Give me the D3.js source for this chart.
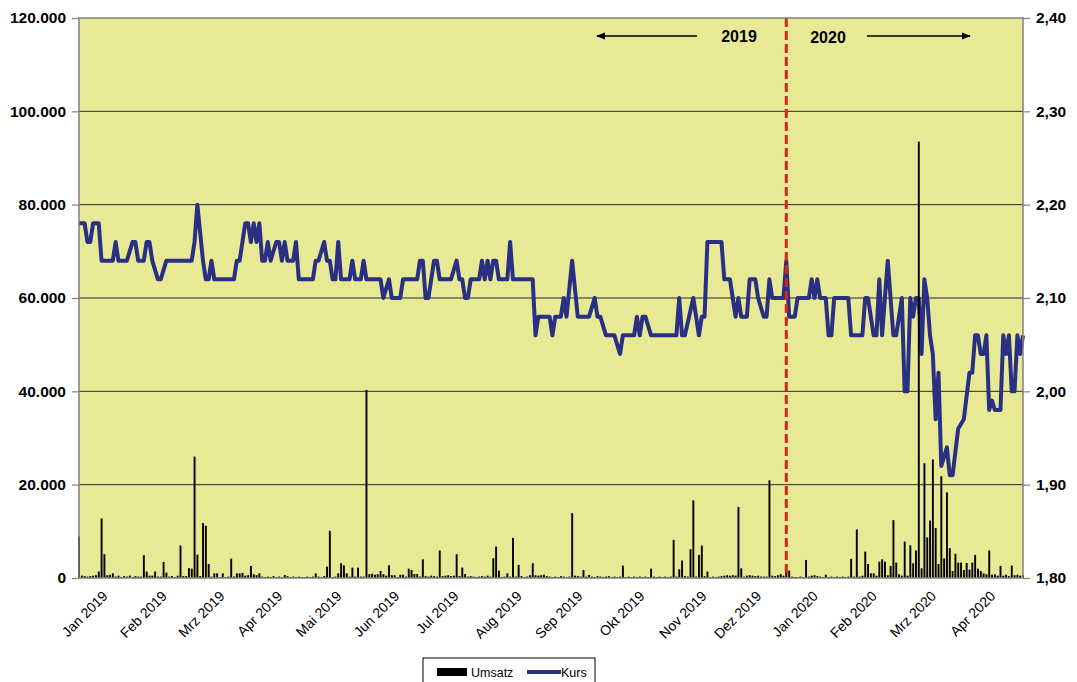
<!DOCTYPE html>
<html>
<head>
<meta charset="utf-8">
<script src="https://cdnjs.cloudflare.com/ajax/libs/d3/7.8.5/d3.min.js"></script>
<style>
    body { margin: 0; background: #fff; }
    text { font-family: Arial, "Liberation Sans", sans-serif; }
</style>
</head>
<body>
<div id="chart"></div>
<script>
// Handelstage: Wochentage ohne Börsenfeiertage
const feiertage = ['2019-01-01', '2019-04-19', '2019-04-22', '2019-05-01', '2019-06-10',
    '2019-12-24', '2019-12-25', '2019-12-26', '2019-12-31', '2020-01-01', '2020-04-10', '2020-04-13'];
const monatsNamen = ['Jan', 'Feb', 'Mrz', 'Apr', 'Mai', 'Jun', 'Jul', 'Aug', 'Sep', 'Okt', 'Nov', 'Dez'];

// Umsatz je Handelstag (Stück)
const umsatz = [
    8900, 500, 400, 300, 400, 500, 600, 1400, 12760, 5100,
    600, 700, 1000, 300, 500, 200, 400, 300, 500, 200,
    400, 300, 300, 4900, 1360, 500, 500, 1360, 300, 300,
    3440, 1150, 300, 400, 200, 500, 6950, 400, 400, 2100,
    2000, 26000, 5000, 400, 11760, 11200, 3000, 300, 1000, 1000,
    200, 1000, 200, 300, 4150, 300, 1000, 1000, 1100, 500,
    600, 2580, 800, 600, 1000, 300, 200, 300, 200, 400,
    200, 300, 200, 650, 400, 200, 300, 200, 300, 200,
    200, 300, 200, 300, 1000, 300, 200, 400, 2440, 10100,
    200, 300, 1000, 3150, 2700, 1000, 300, 2220, 300, 2220,
    300, 300, 40300, 800, 900, 700, 800, 1500, 800, 500,
    2720, 600, 600, 200, 700, 700, 300, 2000, 1720, 850,
    850, 300, 4000, 400, 300, 500, 400, 300, 5880, 400,
    500, 600, 400, 500, 5100, 400, 2220, 850, 300, 400,
    300, 200, 300, 400, 300, 500, 300, 4230, 6740, 1580,
    200, 300, 1000, 300, 8600, 300, 2800, 400, 200, 300,
    600, 3150, 600, 500, 600, 700, 400, 300, 200, 300,
    200, 400, 300, 200, 300, 13900, 500, 400, 300, 1720,
    300, 650, 300, 200, 400, 300, 200, 300, 400, 200,
    300, 200, 300, 2650, 200, 300, 200, 300, 200, 300,
    200, 300, 200, 2000, 300, 200, 300, 200, 300, 200,
    300, 8170, 300, 1860, 3730, 400, 300, 6170, 16630, 300,
    4950, 6950, 400, 1360, 200, 300, 200, 300, 400, 500,
    600, 500, 600, 500, 15200, 2080, 300, 500, 600, 500,
    400, 500, 300, 300, 300, 20930, 500, 400, 600, 800,
    500, 1360, 1580, 300, 200, 200, 300, 200, 3870, 300,
    500, 600, 400, 300, 200, 700, 200, 300, 200, 300,
    200, 300, 200, 300, 4100, 300, 10400, 300, 500, 5660,
    3000, 1000, 1000, 500, 3500, 4000, 3500, 600, 2580, 12400,
    3300, 800, 500, 7800, 500, 7000, 3150, 5900, 93500, 2080,
    24600, 8700, 12300, 25400, 10700, 3000, 21800, 4200, 18350, 6400,
    1500, 5200, 3300, 3300, 1700, 3200, 1800, 3300, 4950, 2000,
    1500, 1000, 800, 5900, 700, 800, 500, 2600, 500, 700,
    400, 2650, 600, 700, 500, 600
];

// Kurs: Handelstag (Index) und Kurs (EUR) an den Knickpunkten
const kursTag = [
    0, 2, 3, 4, 5, 7, 8, 12, 13, 14, 17, 19, 20, 21, 23, 24, 25, 26, 28, 29,
    31, 40, 41, 42, 43, 44, 45, 46, 47, 48, 55, 56, 57, 58, 59, 60, 61, 62, 63, 64,
    65, 66, 67, 68, 70, 71, 72, 73, 74, 76, 77, 78, 83, 84, 85, 87, 88, 89, 90, 91,
    92, 93, 96, 97, 98, 100, 101, 102, 107, 108, 110, 111, 114, 115, 120, 121, 122, 123, 124, 126,
    127, 128, 132, 134, 135, 136, 137, 138, 139, 142, 143, 144, 145, 146, 147, 148, 149, 152, 153, 154,
    161, 162, 163, 167, 168, 169, 171, 172, 173, 175, 177, 181, 183, 184, 185, 187, 190, 192, 193, 197,
    198, 199, 200, 201, 203, 212, 213, 214, 215, 218, 220, 221, 222, 223, 228, 229, 231, 233, 234, 235,
    237, 238, 240, 241, 243, 244, 245, 246, 250, 251, 252, 254, 255, 259, 260, 261, 262, 263, 265, 266,
    267, 268, 273, 274, 278, 279, 280, 282, 283, 284, 285, 287, 289, 290, 292, 293, 294, 295, 296, 297,
    298, 299, 300, 301, 302, 303, 304, 305, 306, 308, 309, 310, 312, 314, 316, 317, 318, 319, 320, 321,
    322, 323, 324, 325, 327, 328, 329, 330, 331, 332, 333, 334, 335
];
const kursWert = [
    2.18, 2.18, 2.16, 2.16, 2.18, 2.18, 2.14, 2.14, 2.16, 2.14, 2.14, 2.16, 2.16, 2.14, 2.14, 2.16, 2.16, 2.14, 2.12, 2.12,
    2.14, 2.14, 2.16, 2.20, 2.17, 2.14, 2.12, 2.12, 2.14, 2.12, 2.12, 2.14, 2.14, 2.16, 2.18, 2.18, 2.16, 2.18, 2.16, 2.18,
    2.14, 2.14, 2.16, 2.14, 2.16, 2.16, 2.14, 2.16, 2.14, 2.14, 2.16, 2.12, 2.12, 2.14, 2.14, 2.16, 2.14, 2.14, 2.12, 2.12,
    2.16, 2.12, 2.12, 2.14, 2.12, 2.12, 2.14, 2.12, 2.12, 2.10, 2.12, 2.10, 2.10, 2.12, 2.12, 2.14, 2.14, 2.10, 2.10, 2.14,
    2.14, 2.12, 2.12, 2.14, 2.12, 2.12, 2.10, 2.10, 2.12, 2.12, 2.14, 2.12, 2.14, 2.12, 2.14, 2.14, 2.12, 2.12, 2.16, 2.12,
    2.12, 2.06, 2.08, 2.08, 2.06, 2.08, 2.08, 2.10, 2.08, 2.14, 2.08, 2.08, 2.10, 2.08, 2.08, 2.06, 2.06, 2.04, 2.06, 2.06,
    2.08, 2.06, 2.08, 2.08, 2.06, 2.06, 2.10, 2.06, 2.06, 2.10, 2.06, 2.08, 2.08, 2.16, 2.16, 2.12, 2.12, 2.08, 2.10, 2.08,
    2.08, 2.12, 2.12, 2.10, 2.08, 2.08, 2.12, 2.10, 2.10, 2.14, 2.08, 2.08, 2.10, 2.10, 2.12, 2.10, 2.12, 2.10, 2.10, 2.06,
    2.06, 2.10, 2.10, 2.06, 2.06, 2.10, 2.10, 2.06, 2.06, 2.12, 2.06, 2.14, 2.06, 2.06, 2.10, 2.00, 2.00, 2.10, 2.08, 2.10,
    2.10, 2.04, 2.12, 2.10, 2.06, 2.04, 1.97, 2.02, 1.92, 1.94, 1.91, 1.91, 1.96, 1.97, 2.02, 2.02, 2.06, 2.06, 2.04, 2.04,
    2.06, 1.98, 1.99, 1.98, 1.98, 2.06, 2.04, 2.06, 2.00, 2.00, 2.06, 2.04, 2.06
];

const umsatzTicks = [0, 20000, 40000, 60000, 80000, 100000, 120000];
const kursTicks = [1.80, 1.90, 2.00, 2.10, 2.20, 2.30, 2.40];

const width = 1077;
const height = 682;
const margin = { left: 79, right: 54, top: 18, bottom: 104 };
const plotRight = width - margin.right;
const plotBottom = height - margin.bottom;

const deDE = d3.formatLocale({ decimal: ',', thousands: '.', grouping: [3], currency: ['', ' €'] });
const fmtUmsatz = deDE.format(',d');
const fmtKurs = deDE.format(',.2f');
const fmtTag = d3.timeFormat('%Y-%m-%d');

// Handelstage erzeugen
const tage = d3.timeDay.range(new Date(2019, 0, 1), new Date(2020, 4, 1))
    .filter((d) => d.getDay() !== 0 && d.getDay() !== 6 && !feiertage.includes(fmtTag(d)));

const x = d3.scaleLinear().domain([0, tage.length - 1]).range([margin.left, plotRight]);
const yUmsatz = d3.scaleLinear().domain([0, 120000]).range([plotBottom, margin.top]);
const yKurs = d3.scaleLinear().domain([1.8, 2.4]).range([plotBottom, margin.top]);

const svg = d3.select('#chart')
    .append('svg')
    .attr('width', width)
    .attr('height', height);

svg.append('defs').append('marker')
    .attr('id', 'pfeil')
    .attr('viewBox', '0 0 10 10')
    .attr('refX', 9)
    .attr('refY', 5)
    .attr('markerWidth', 9)
    .attr('markerHeight', 9)
    .attr('markerUnits', 'userSpaceOnUse')
    .attr('orient', 'auto-start-reverse')
    .append('path')
    .attr('d', 'M0,1 L10,5 L0,9 Z')
    .attr('fill', '#000');

// Zeichenfläche
svg.append('rect')
    .attr('x', margin.left)
    .attr('y', margin.top)
    .attr('width', plotRight - margin.left)
    .attr('height', plotBottom - margin.top)
    .attr('fill', '#e8e994');

// Gitternetz
svg.append('g')
    .selectAll('line')
    .data(umsatzTicks.slice(1, -1))
    .enter()
    .append('line')
    .attr('x1', margin.left)
    .attr('x2', plotRight)
    .attr('y1', (d) => yUmsatz(d))
    .attr('y2', (d) => yUmsatz(d))
    .attr('stroke', '#2b2b2b')
    .attr('stroke-width', 1);

// Kurslinie
const linie = d3.line()
    .x((d) => x(d[0]))
    .y((d) => yKurs(d[1]));

svg.append('path')
    .datum(d3.zip(kursTag, kursWert))
    .attr('d', linie)
    .attr('fill', 'none')
    .attr('stroke', '#292f82')
    .attr('stroke-width', 4)
    .attr('stroke-linejoin', 'round');

// Umsatzbalken
svg.append('g')
    .selectAll('rect')
    .data(umsatz)
    .enter()
    .append('rect')
    .attr('x', (d, i) => x(i) - 0.9)
    .attr('width', 1.9)
    .attr('y', (d) => yUmsatz(d))
    .attr('height', (d) => plotBottom - yUmsatz(d))
    .attr('fill', '#000');

// Jahreswechsel
const letzterTag2019 = d3.max(tage.map((d, i) => (d.getFullYear() === 2019 ? i : -1)));
svg.append('line')
    .attr('x1', x(letzterTag2019))
    .attr('x2', x(letzterTag2019))
    .attr('y1', margin.top)
    .attr('y2', plotBottom)
    .attr('stroke', '#d8261e')
    .attr('stroke-width', 3)
    .attr('stroke-dasharray', '9,4');

// Rahmen
svg.append('rect')
    .attr('x', margin.left)
    .attr('y', margin.top)
    .attr('width', plotRight - margin.left)
    .attr('height', plotBottom - margin.top)
    .attr('fill', 'none')
    .attr('stroke', '#808080')
    .attr('stroke-width', 1.5);

// Achsen
const achseLinks = svg.append('g')
    .attr('transform', `translate(${margin.left},0)`)
    .call(d3.axisLeft(yUmsatz).tickValues(umsatzTicks).tickFormat(fmtUmsatz).tickSize(7).tickPadding(6));

const achseRechts = svg.append('g')
    .attr('transform', `translate(${plotRight},0)`)
    .call(d3.axisRight(yKurs).tickValues(kursTicks).tickFormat(fmtKurs).tickSize(7).tickPadding(6));

[achseLinks, achseRechts].forEach((a) => {
    a.select('.domain').remove();
    a.selectAll('.tick line').attr('stroke', '#808080').attr('stroke-width', 1.2);
    a.selectAll('.tick text')
        .attr('font-family', 'Arial, "Liberation Sans", sans-serif')
        .attr('font-size', 15.5)
        .attr('font-weight', 'bold')
        .attr('fill', '#000');
});

// Monatsbeschriftung (Mitte der Handelstage eines Monats)
const monate = d3.groups(tage.map((d, i) => ({ d, i })), (e) => e.d.getFullYear() * 12 + e.d.getMonth())
    .map(([key, werte]) => ({
        label: monatsNamen[werte[0].d.getMonth()] + ' ' + werte[0].d.getFullYear(),
        mitte: d3.mean(werte, (e) => e.i)
    }));

svg.append('g')
    .selectAll('text')
    .data(monate)
    .enter()
    .append('text')
    .attr('transform', (d) => `translate(${x(d.mitte)},${plotBottom + 19}) rotate(-45)`)
    .attr('text-anchor', 'end')
    .attr('font-size', 14)
    .attr('fill', '#000')
    .text((d) => d.label);

// Jahres-Pfeile
svg.append('line')
    .attr('x1', 697).attr('y1', 36).attr('x2', 597).attr('y2', 36)
    .attr('stroke', '#000').attr('stroke-width', 1.3)
    .attr('marker-end', 'url(#pfeil)');
svg.append('line')
    .attr('x1', 867).attr('y1', 36).attr('x2', 970).attr('y2', 36)
    .attr('stroke', '#000').attr('stroke-width', 1.3)
    .attr('marker-end', 'url(#pfeil)');

svg.append('text')
    .attr('x', 739).attr('y', 42)
    .attr('text-anchor', 'middle')
    .attr('font-size', 16).attr('font-weight', 'bold')
    .text('2019');
svg.append('text')
    .attr('x', 828).attr('y', 43)
    .attr('text-anchor', 'middle')
    .attr('font-size', 16).attr('font-weight', 'bold')
    .text('2020');

// Legende
const legende = svg.append('g').attr('transform', 'translate(423,658)');
legende.append('rect')
    .attr('width', 172).attr('height', 30)
    .attr('fill', '#fff').attr('stroke', '#000').attr('stroke-width', 1);
legende.append('rect')
    .attr('x', 14).attr('y', 10).attr('width', 30).attr('height', 8)
    .attr('fill', '#000');
legende.append('text')
    .attr('x', 48).attr('y', 19)
    .attr('font-size', 12.5)
    .text('Umsatz');
legende.append('line')
    .attr('x1', 104).attr('x2', 138).attr('y1', 14).attr('y2', 14)
    .attr('stroke', '#292f82').attr('stroke-width', 4);
legende.append('text')
    .attr('x', 138).attr('y', 19)
    .attr('font-size', 12.5)
    .text('Kurs');
</script>
</body>
</html>
